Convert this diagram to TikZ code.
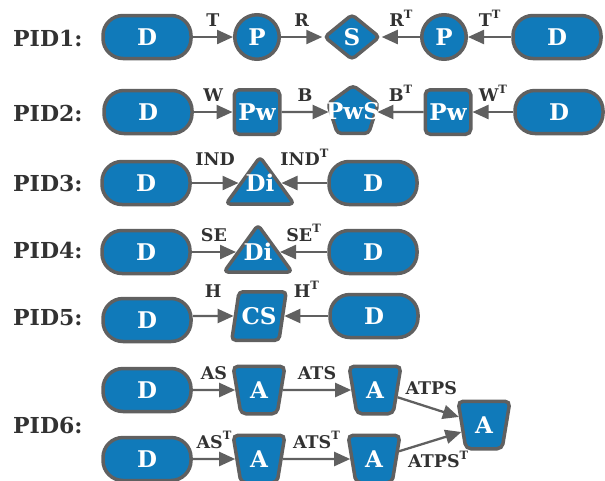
\documentclass[tikz,border=0pt]{standalone}
\usepackage{fontspec}
\setmainfont{DejaVu Serif}
\usetikzlibrary{shapes.geometric,arrows.meta}
\definecolor{nodeblue}{RGB}{16,122,186}
\definecolor{edgegray}{RGB}{96,96,96}
\definecolor{labgray}{RGB}{50,50,50}
\newcommand{\supT}{\raisebox{0.5em}{\fontsize{11.5}{11.5}\selectfont T}}
\begin{document}
\begin{tikzpicture}[x=1pt,y=-1pt,
  base/.style={draw=edgegray, line width=3.5pt, fill=nodeblue, text=white,
    font=\fontsize{23}{23}\selectfont\bfseries, inner sep=0pt},
  dnode/.style={base, rectangle, rounded corners=20pt, minimum width=88pt, minimum height=43pt},
  pnode/.style={base, circle, minimum size=44.5pt},
  snode/.style={base, diamond, minimum width=56pt, minimum height=46pt, rounded corners=4pt},
  pwnode/.style={base, rectangle, rounded corners=5pt, minimum width=45.5pt, minimum height=44.5pt},
  pentnode/.style={base, regular polygon, regular polygon sides=5, minimum size=53pt, rounded corners=4pt},
  trishape/.style={draw=edgegray, line width=3.5pt, fill=nodeblue, rounded corners=4pt, line join=round},
  txt/.style={text=white, font=\fontsize{23}{23}\selectfont\bfseries, inner sep=0pt},
  csnode/.style={base, trapezium, trapezium left angle=70, trapezium right angle=110,
    trapezium stretches=true, minimum width=54.5pt, minimum height=48.5pt, rounded corners=4pt},
  anode/.style={base, trapezium, trapezium left angle=77, trapezium right angle=77,
    shape border rotate=180, trapezium stretches=true, minimum width=52pt, minimum height=47.5pt,
    rounded corners=5pt},
  arr/.style={draw=edgegray, line width=2.3pt, -{Triangle[length=16pt,width=14pt]}},
  lbl/.style={text=labgray, font=\fontsize{17.5}{17.5}\selectfont\bfseries, inner sep=0pt, above=9pt},
  pid/.style={text=labgray, font=\fontsize{22}{22}\selectfont\bfseries, anchor=west, inner sep=0pt}
]
\useasboundingbox (0,0) rectangle (605,480);
\clip (0,0) rectangle (605,480);

% PID1
\node[pid] (l1) at (13,38) {PID1:};
\node[dnode] (d1a) at (147,37) {D};
\node[pnode] (p1a) at (257,37) {P};
\node[snode] (s1) at (352,37) {S};
\node[pnode] (p1b) at (444,37) {P};
\node[dnode] (d1b) at (557,37) {D};
\draw[arr] (d1a) -- node[lbl] {T} (p1a);
\draw[arr] (p1a) -- node[lbl] {R} (s1);
\draw[arr] (p1b) -- node[lbl] {R\supT} (s1);
\draw[arr] (d1b) -- node[lbl] {T\supT} (p1b);

% PID2
\node[pid] (l2) at (13,113) {PID2:};
\node[dnode] (d2a) at (148,112) {D};
\node[pwnode] (pw2a) at (257,112) {Pw};
\node[pentnode] (pws) at (353,112) {\raisebox{3pt}{\makebox[0pt]{PwS}}};
\node[pwnode] (pw2b) at (448,112) {Pw};
\node[dnode] (d2b) at (559,112) {D};
\draw[arr] (d2a) -- node[lbl] {W} (pw2a);
\draw[arr] (pw2a) -- node[lbl] {B} (pws);
\draw[arr] (pw2b) -- node[lbl] {B\supT} (pws);
\draw[arr] (d2b) -- node[lbl] {W\supT} (pw2b);

% PID3
\node[pid] (l3) at (13,183) {PID3:};
\node[dnode] (d3a) at (146,183) {D};
\draw[trishape] (226,204) -- (260,157) -- (294,204) -- cycle;
\node[txt] (di3) at (260,183) {Di};
\node[dnode] (d3b) at (373,183) {D};
\coordinate (tri3l) at (238.5,183);
\coordinate (tri3r) at (281.5,183);
\draw[arr] (d3a) -- node[lbl, above=7pt] {IND} (tri3l);
\draw[arr] (d3b) -- node[lbl, above=7pt] {IND\supT} (tri3r);

% PID4
\node[pid] (l4) at (13,250) {PID4:};
\node[dnode] (d4a) at (146,252) {D};
\draw[trishape] (224,272) -- (258,225) -- (292,272) -- cycle;
\node[txt] (di4) at (258,252) {Di};
\node[dnode] (d4b) at (373,252) {D};
\coordinate (tri4l) at (236,252);
\coordinate (tri4r) at (280,252);
\draw[arr] (d4a) -- node[lbl] {SE} (tri4l);
\draw[arr] (d4b) -- node[lbl] {SE\supT} (tri4r);

% PID5
\node[pid] (l5) at (13,318) {PID5:};
\node[dnode] (d5a) at (147,320) {D};
\node[csnode] (cs) at (259,316) {CS};
\node[dnode] (d5b) at (374,316) {D};
\draw[arr] (d5a.east |- cs) -- node[lbl, above=8pt] {H} (cs);
\draw[arr] (d5b) -- node[lbl, above=8pt] {H\supT} (cs);

% PID6
\node[pid] (l6) at (13,425) {PID6:};
\node[dnode] (d6a) at (147,390) {D};
\node[anode] (a6a) at (259,390) {A};
\node[anode] (a6b) at (375,390) {A};
\node[anode] (a6c) at (484,425) {A};
\node[dnode] (d6b) at (147,459) {D};
\node[anode] (a6d) at (259,459) {A};
\node[anode] (a6e) at (374,459) {A};
\draw[arr] (d6a) -- node[lbl] {AS} (a6a);
\draw[arr] (a6a) -- node[lbl] {ATS} (a6b);
\draw[arr] (a6b) -- node[lbl, above=2pt, xshift=3pt] {ATPS} (a6c);
\draw[arr] (d6b) -- node[lbl] {AS\supT} (a6d);
\draw[arr] (a6d) -- node[lbl] {ATS\supT} (a6e);
\draw[arr] (a6e) -- node[lbl, below=17pt, xshift=8pt] {ATPS\supT} (a6c);
\end{tikzpicture}
\end{document}
